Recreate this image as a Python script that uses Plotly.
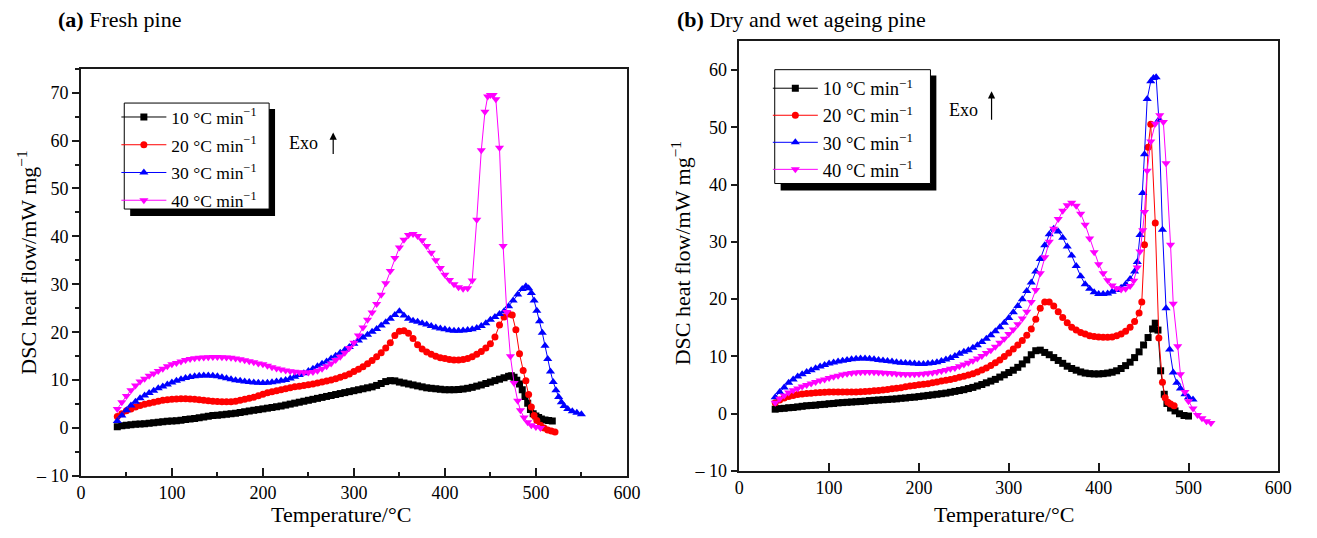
import plotly.graph_objects as go

W, H = 1317, 538

# ---------------- Panel (a): Fresh pine ----------------
a10_T = [40,45,50,55,60,65,70,75,80,85,90,95,100,105,110,115,120,125,130,135,140,145,150,155,160,165,170,175,180,185,190,195,200,205,210,215,220,225,230,235,240,245,250,255,260,265,270,275,280,285,290,295,300,305,310,315,320,325,330,335,340,345,350,355,360,365,370,375,380,385,390,395,400,405,410,415,420,425,430,435,440,445,450,455,460,465,470,473,476,479,482,485,488,491,494,497,500,503,506,510,514,518]
a10_Y = [0.3,0.5,0.6,0.7,0.8,0.85,0.9,1.0,1.1,1.2,1.3,1.4,1.45,1.55,1.65,1.8,1.9,2.0,2.15,2.3,2.45,2.6,2.7,2.8,2.9,3.0,3.1,3.25,3.4,3.55,3.7,3.85,4.0,4.15,4.3,4.45,4.6,4.8,5.0,5.2,5.4,5.6,5.8,6.0,6.2,6.4,6.6,6.8,7.0,7.2,7.4,7.6,7.8,8.0,8.2,8.4,8.6,8.9,9.3,9.7,9.9,9.85,9.6,9.4,9.2,9.0,8.8,8.6,8.4,8.3,8.2,8.1,8.0,8.0,8.0,8.05,8.15,8.3,8.5,8.75,9.0,9.3,9.6,9.9,10.2,10.5,10.8,10.9,10.6,10.0,9.2,8.0,6.6,5.2,3.9,3.0,2.5,2.2,1.9,1.7,1.6,1.5]

a20_T = [40,45,50,55,60,65,70,75,80,85,90,95,100,105,110,115,120,125,130,135,140,145,150,155,160,165,170,175,180,185,190,195,200,205,210,215,220,225,230,235,240,245,250,255,260,265,270,275,280,285,290,295,300,305,310,315,320,325,330,335,340,345,350,355,360,365,370,375,380,385,390,395,400,405,410,415,420,425,430,435,440,445,450,455,460,465,470,474,478,482,486,489,492,495,498,501,505,509,513,517,521]
a20_Y = [2.4,3.0,3.6,4.0,4.4,4.7,4.95,5.2,5.4,5.6,5.8,5.9,6.0,6.05,6.1,6.1,6.05,6.0,5.9,5.8,5.7,5.6,5.55,5.5,5.5,5.5,5.6,5.8,6.0,6.2,6.45,6.75,7.05,7.35,7.6,7.8,8.0,8.2,8.4,8.6,8.75,8.9,9.05,9.2,9.4,9.6,9.8,10.05,10.3,10.6,10.9,11.3,11.8,12.3,12.8,13.4,14.1,14.9,15.7,16.7,17.8,19.3,20.2,20.3,19.8,18.7,17.4,16.5,15.9,15.4,15.0,14.7,14.5,14.3,14.2,14.2,14.3,14.5,14.9,15.4,16.0,16.7,17.6,19.0,21.5,23.2,23.8,23.6,20.5,15.5,12.0,9.9,7.0,4.4,2.6,1.6,0.6,0.0,-0.4,-0.6,-0.8]

a30_T = [40,45,50,55,60,65,70,75,80,85,90,95,100,105,110,115,120,125,130,135,140,145,150,155,160,165,170,175,180,185,190,195,200,205,210,215,220,225,230,235,240,245,250,255,260,265,270,275,280,285,290,295,300,305,310,315,320,325,330,335,340,345,350,355,360,365,370,375,380,385,390,395,400,405,410,415,420,425,430,435,440,445,450,455,460,465,470,475,480,485,489,492,495,498,501,504,507,510,513,516,519,522,525,528,531,535,540,545,550]
a30_Y = [1.5,2.6,3.7,4.7,5.5,6.2,6.8,7.3,7.8,8.3,8.7,9.1,9.5,9.9,10.2,10.45,10.65,10.8,10.9,10.95,10.95,10.9,10.8,10.6,10.4,10.2,10.0,9.85,9.7,9.6,9.5,9.45,9.4,9.45,9.55,9.7,9.85,10.05,10.35,10.7,11.05,11.45,11.9,12.4,12.9,13.4,13.9,14.5,15.1,15.7,16.3,16.9,17.6,18.3,18.9,19.5,20.1,20.7,21.4,22.1,22.8,23.6,24.4,23.5,22.8,22.4,22.2,21.9,21.6,21.3,21.0,20.8,20.6,20.4,20.3,20.3,20.35,20.45,20.6,20.9,21.3,21.9,22.6,23.2,23.8,24.4,25.4,26.6,27.9,29.0,29.6,29.2,28.2,26.6,24.5,22.3,19.9,17.2,14.4,11.8,9.6,7.9,6.5,5.4,4.6,4.0,3.5,3.2,2.9]

a40_T = [40,45,50,55,60,65,70,75,80,85,90,95,100,105,110,115,120,125,130,135,140,145,150,155,160,165,170,175,180,185,190,195,200,205,210,215,220,225,230,235,240,245,250,255,260,265,270,275,280,285,290,295,300,305,310,315,320,325,330,335,340,345,350,355,360,365,370,375,380,385,390,395,400,405,410,415,420,425,430,435,440,444,447,450,453,456,460,464,468,472,476,480,483,487,491,495,500,505]
a40_Y = [4.0,5.4,6.7,7.9,8.9,9.7,10.3,10.9,11.4,11.9,12.4,12.9,13.3,13.6,13.9,14.2,14.4,14.55,14.65,14.75,14.8,14.85,14.85,14.8,14.75,14.65,14.5,14.35,14.15,13.95,13.75,13.5,13.3,13.0,12.7,12.45,12.2,12.0,11.85,11.75,11.65,11.6,11.6,11.7,11.95,12.4,12.9,13.5,14.2,14.9,15.7,16.7,17.8,19.3,21.0,22.6,24.1,25.9,27.8,30.2,32.8,35.5,37.7,39.3,40.3,40.5,40.1,39.2,38.0,36.6,35.0,33.4,32.0,30.9,30.0,29.4,29.1,29.2,30.8,43.5,58.0,66.0,69.2,69.5,69.5,68.6,58.5,38.0,24.2,15.0,9.4,5.7,3.7,2.2,1.2,0.6,0.2,0.0]

# ---------------- Panel (b): Dry and wet ageing pine ----------------
b10_T = [40,45,50,55,60,65,70,75,80,85,90,95,100,105,110,115,120,125,130,135,140,145,150,155,160,165,170,175,180,185,190,195,200,205,210,215,220,225,230,235,240,245,250,255,260,265,270,275,280,285,290,295,300,305,310,315,320,325,330,335,340,345,350,355,360,365,370,375,380,385,390,395,400,405,410,415,420,425,430,435,440,445,450,455,460,463,466,469,473,476,480,485,490,495,500]
b10_Y = [0.8,0.9,0.95,1.05,1.1,1.2,1.3,1.4,1.45,1.5,1.6,1.65,1.75,1.8,1.9,1.95,2.0,2.05,2.1,2.15,2.2,2.3,2.35,2.4,2.45,2.5,2.55,2.6,2.7,2.75,2.85,2.9,3.0,3.1,3.2,3.3,3.4,3.5,3.6,3.75,3.9,4.05,4.2,4.4,4.6,4.85,5.1,5.4,5.7,6.0,6.4,6.8,7.2,7.6,8.1,8.7,9.4,10.3,11.0,11.1,10.7,10.3,9.8,9.3,8.8,8.3,7.9,7.6,7.3,7.1,7.0,6.95,6.95,7.0,7.1,7.25,7.5,7.9,8.4,9.0,9.8,10.8,12.0,13.3,14.8,15.8,14.6,7.5,3.4,1.8,1.0,0.5,0.0,-0.3,-0.4]

b20_T = [40,45,50,55,60,65,70,75,80,85,90,95,100,105,110,115,120,125,130,135,140,145,150,155,160,165,170,175,180,185,190,195,200,205,210,215,220,225,230,235,240,245,250,255,260,265,270,275,280,285,290,295,300,305,310,315,320,325,330,335,340,345,350,355,360,365,370,375,380,385,390,395,400,405,410,415,420,425,430,435,440,445,448,451,455,458,463,467,471,474,477,480,484]
b20_Y = [1.9,2.4,2.75,3.0,3.2,3.35,3.45,3.55,3.6,3.65,3.7,3.75,3.8,3.8,3.8,3.8,3.8,3.8,3.8,3.85,3.9,3.95,4.0,4.05,4.15,4.25,4.35,4.45,4.55,4.7,4.85,4.95,5.05,5.15,5.25,5.4,5.55,5.7,5.85,6.0,6.15,6.35,6.55,6.75,7.0,7.3,7.65,8.0,8.4,8.9,9.4,10.0,10.6,11.3,12.0,12.8,13.7,14.8,16.5,18.4,19.5,19.5,18.8,17.8,16.8,15.9,15.1,14.6,14.2,13.9,13.6,13.5,13.4,13.35,13.35,13.4,13.6,13.9,14.4,15.1,16.1,17.6,19.5,29.5,46.5,50.5,33.3,13.2,5.5,2.8,2.0,1.7,1.4]

b30_T = [40,45,50,55,60,65,70,75,80,85,90,95,100,105,110,115,120,125,130,135,140,145,150,155,160,165,170,175,180,185,190,195,200,205,210,215,220,225,230,235,240,245,250,255,260,265,270,275,280,285,290,295,300,305,310,315,320,325,330,335,340,345,350,355,360,365,370,375,380,385,390,395,400,405,410,415,420,425,430,435,440,443,446,449,451,454,458,461,464,467,471,475,479,483,487,491,496,500,505]
b30_Y = [2.9,3.8,4.6,5.4,6.0,6.5,6.9,7.3,7.6,7.95,8.25,8.5,8.75,8.95,9.1,9.25,9.4,9.5,9.6,9.65,9.65,9.6,9.5,9.4,9.3,9.2,9.1,9.0,8.9,8.85,8.8,8.75,8.7,8.7,8.75,8.85,9.0,9.2,9.45,9.75,10.1,10.45,10.8,11.1,11.5,11.95,12.5,13.1,13.7,14.4,15.1,15.9,16.7,17.7,18.8,20.0,21.4,22.9,24.8,27.0,29.4,31.3,32.3,31.8,30.7,29.2,27.6,25.8,24.0,22.6,21.8,21.2,20.9,20.9,21.0,21.3,21.6,22.0,22.6,23.5,24.8,26.5,31.2,38.5,45.3,54.9,58.0,58.6,58.7,51.3,32.1,18.4,11.2,7.2,5.4,4.4,3.4,2.9,2.5]

b40_T = [40,45,50,55,60,65,70,75,80,85,90,95,100,105,110,115,120,125,130,135,140,145,150,155,160,165,170,175,180,185,190,195,200,205,210,215,220,225,230,235,240,245,250,255,260,265,270,275,280,285,290,295,300,305,310,315,320,325,330,335,340,345,350,355,360,365,370,375,380,385,390,395,400,405,410,415,420,425,430,435,439,443,446,449,451,454,458,463,468,472,475,480,483,488,491,496,500,505,510,515,520,525]
b40_Y = [1.9,2.6,3.2,3.7,4.1,4.4,4.75,5.0,5.3,5.55,5.8,6.0,6.25,6.45,6.65,6.85,7.0,7.1,7.2,7.25,7.3,7.3,7.25,7.2,7.15,7.1,7.05,7.0,6.95,6.9,6.9,6.9,6.95,7.0,7.05,7.15,7.3,7.45,7.65,7.85,8.0,8.3,8.6,8.9,9.25,9.65,10.1,10.6,11.1,11.7,12.4,13.1,13.9,14.7,15.6,16.6,17.8,19.5,21.6,24.5,27.3,30.0,32.3,34.0,35.4,36.4,36.8,36.3,34.9,33.0,30.6,28.2,26.1,24.5,23.3,22.4,21.9,21.7,21.8,22.3,23.2,25.5,28.3,32.0,35.2,42.4,47.5,50.6,52.1,50.9,43.7,29.5,19.2,11.8,6.9,3.8,2.2,0.9,-0.2,-0.8,-1.3,-1.6]

labels = ["10 °C min<sup>−1</sup>", "20 °C min<sup>−1</sup>", "30 °C min<sup>−1</sup>", "40 °C min<sup>−1</sup>"]
colors = ["#000000", "#FF0000", "#0000FF", "#FF00FF"]
symbols = ["square", "circle", "triangle-up", "triangle-down"]
msizes = [7, 7, 8, 8]

FONT = "Liberation Serif"

def px(x):
    return x / W

def py(y):
    return 1 - y / H

fig = go.Figure()

series_a = [(a10_T, a10_Y), (a20_T, a20_Y), (a30_T, a30_Y), (a40_T, a40_Y)]
series_b = [(b10_T, b10_Y), (b20_T, b20_Y), (b30_T, b30_Y), (b40_T, b40_Y)]

for i, (t, y) in enumerate(series_a):
    fig.add_trace(go.Scatter(
        x=t, y=y, mode="lines+markers", name=labels[i],
        line=dict(color=colors[i], width=1),
        marker=dict(symbol=symbols[i], size=msizes[i], color=colors[i], line=dict(width=0)),
        xaxis="x", yaxis="y", legend="legend", legendgroup="a%d" % i))

for i, (t, y) in enumerate(series_b):
    fig.add_trace(go.Scatter(
        x=t, y=y, mode="lines+markers", name=labels[i],
        line=dict(color=colors[i], width=1),
        marker=dict(symbol=symbols[i], size=msizes[i], color=colors[i], line=dict(width=0)),
        xaxis="x2", yaxis="y2", legend="legend2", legendgroup="b%d" % i))

tickfont = dict(family=FONT, size=18, color="black")
axis_common = dict(showline=True, linecolor="#1a1a1a", linewidth=1.5, mirror=True,
                   showgrid=False, zeroline=False, tickcolor="#1a1a1a", tickwidth=1.5,
                   tickfont=tickfont)

xa = dict(axis_common, range=[0, 600], tickvals=[0, 100, 200, 300, 400, 500, 600],
          ticks="inside", ticklen=8,
          minor=dict(ticks="inside", ticklen=4, dtick=50, tick0=0, tickcolor="#1a1a1a", tickwidth=1.5))
ya_ticks = [-10, 0, 10, 20, 30, 40, 50, 60, 70]
ya = dict(axis_common, range=[-10, 75], tickvals=ya_ticks,
          ticktext=["– 10" if v < 0 else str(v) for v in ya_ticks],
          ticks="outside", ticklen=7,
          minor=dict(ticks="outside", ticklen=4, dtick=5, tick0=0, tickcolor="#1a1a1a", tickwidth=1.5))

xb = dict(axis_common, range=[0, 600], tickvals=[0, 100, 200, 300, 400, 500, 600],
          ticks="inside", ticklen=8)
yb_ticks = [-10, 0, 10, 20, 30, 40, 50, 60]
yb = dict(axis_common, range=[-10, 65], tickvals=yb_ticks,
          ticktext=["– 10" if v < 0 else str(v) for v in yb_ticks],
          ticks="outside", ticklen=7)

legend_common = dict(bgcolor="rgba(0,0,0,0)", borderwidth=0,
                     itemwidth=45, xanchor="left", yanchor="top",
                     itemclick=False, itemdoubleclick=False)

fig.update_layout(
    width=W, height=H,
    margin=dict(l=0, r=0, t=0, b=0),
    paper_bgcolor="white", plot_bgcolor="rgba(0,0,0,0)",
    font=dict(family=FONT, size=18, color="black"),
    showlegend=True,
    xaxis=dict(xa, domain=[px(77), px(631)], anchor="y"),
    yaxis=dict(ya, domain=[py(485), py(70)], anchor="x"),
    xaxis2=dict(xb, domain=[px(745), px(1292)], anchor="y2"),
    yaxis2=dict(yb, domain=[py(480), py(42)], anchor="x2"),
    legend=dict(legend_common, x=px(113), y=py(101), tracegroupgap=2,
                font=dict(family=FONT, size=17.5, color="black")),
    legend2=dict(legend_common, x=px(774), y=py(71), tracegroupgap=0,
                 font=dict(family=FONT, size=18.5, color="black")),
)

# legend frames with drop shadows (shadow first, white framed box on top)
for (x0, y0, x1, y1) in ((121, 105, 268, 213), (781, 71, 939, 187)):
    fig.add_shape(type="rect", xref="paper", yref="paper",
                  x0=px(x0 + 6), x1=px(x1 + 6), y0=py(y1 + 7), y1=py(y0 + 6),
                  fillcolor="black", line=dict(width=0), layer="above")
    fig.add_shape(type="rect", xref="paper", yref="paper",
                  x0=px(x0), x1=px(x1), y0=py(y1), y1=py(y0),
                  fillcolor="white", line=dict(color="black", width=1), layer="above")

ann = []
# panel titles
ann.append(dict(text="<b>(a)</b> Fresh pine", x=px(52), y=py(20), xref="paper", yref="paper",
                xanchor="left", yanchor="middle", showarrow=False, font=dict(family=FONT, size=22)))
ann.append(dict(text="<b>(b)</b> Dry and wet ageing pine", x=px(680), y=py(20), xref="paper", yref="paper",
                xanchor="left", yanchor="middle", showarrow=False, font=dict(family=FONT, size=22)))
# axis titles
for xc in (341, 1014):
    ann.append(dict(text="Temperature/°C", x=px(xc), y=py(524), xref="paper", yref="paper",
                    xanchor="center", yanchor="middle", showarrow=False, font=dict(family=FONT, size=22)))
for xc, yc in ((22, 268), (686, 258)):
    ann.append(dict(text="DSC heat flow/mW mg<sup>−1</sup>", x=px(xc), y=py(yc), xref="paper", yref="paper",
                    xanchor="center", yanchor="middle", textangle=-90, showarrow=False,
                    font=dict(family=FONT, size=22)))
# Exo labels
ann.append(dict(text="Exo", x=px(303), y=py(146), xref="paper", yref="paper",
                xanchor="center", yanchor="middle", showarrow=False, font=dict(family=FONT, size=18)))
ann.append(dict(text="Exo", x=px(973), y=py(112), xref="paper", yref="paper",
                xanchor="center", yanchor="middle", showarrow=False, font=dict(family=FONT, size=18)))
# Exo arrows
ann.append(dict(text="", x=px(333), y=py(135), xref="paper", yref="paper", showarrow=True,
                ax=0, ay=23, arrowhead=2, arrowsize=1.2, arrowwidth=1.2, arrowcolor="black"))
ann.append(dict(text="", x=px(1001), y=py(93), xref="paper", yref="paper", showarrow=True,
                ax=0, ay=30, arrowhead=2, arrowsize=1.2, arrowwidth=1.2, arrowcolor="black"))
fig.update_layout(annotations=ann)

fig.write_html("out.html")
